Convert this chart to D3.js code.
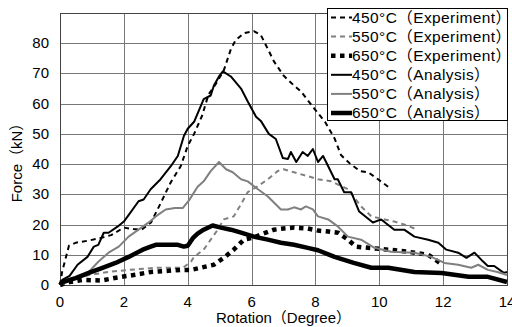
<!DOCTYPE html>
<html>
<head>
<meta charset="utf-8">
<script src="https://cdn.jsdelivr.net/npm/d3@7"></script>
<style>
  body { margin: 0; background: #fff; }
  text { font-family: "Liberation Sans", Arial, "Noto Sans CJK JP", sans-serif; }
</style>
</head>
<body>
<svg id="chart" width="512" height="327"></svg>
<script>
// axis ticks
const xTicks = [0, 2, 4, 6, 8, 10, 12, 14];
const yTicks = [0, 10, 20, 30, 40, 50, 60, 70, 80];

// 450°C experiment
const exp450X = [0, 0.07, 0.28, 0.5, 0.9, 1.25, 1.6, 2.0, 2.3, 2.55, 2.85, 3.15, 3.47, 3.78, 4.0, 4.2, 4.45, 4.65, 4.88, 5.13, 5.35, 5.5, 5.76, 6.07, 6.29, 6.5, 6.7, 7.0, 7.33, 7.55, 7.97, 8.3, 8.6, 8.8, 9.1, 9.4, 9.65, 9.96, 10.3];
const exp450Y = [0, 4.5, 13, 14, 14.7, 15.5, 16.5, 19, 18.5, 18.3, 20.7, 27, 34, 39.3, 46, 50, 56, 63, 66.5, 71, 78, 81, 83.3, 84, 82.7, 78.3, 74, 69.3, 66, 64, 58.3, 54, 48.5, 43, 40, 37.7, 37.3, 35, 32.3];
// 550°C experiment
const exp550X = [0, 0.3, 0.9, 1.5, 2.15, 3.0, 3.85, 4.1, 4.2, 4.5, 4.72, 4.94, 5.13, 5.44, 5.67, 5.88, 6.2, 6.51, 6.82, 7.0, 7.33, 7.76, 8.08, 8.49, 9.02, 9.43, 9.75, 10.16, 10.47, 10.78, 11.2];
const exp550Y = [0, 1.5, 3.3, 4.3, 5, 5.7, 5.7, 7.7, 9.3, 11.7, 15, 18.3, 21.7, 22.7, 26.7, 30.7, 32.7, 35, 37.7, 38.3, 37.3, 36, 35, 34.3, 31.7, 26, 22.7, 21.7, 21, 20, 18.3];
// 650°C experiment
const exp650X = [0, 0.3, 0.7, 1.3, 1.8, 2.3, 2.84, 3.4, 3.78, 4.1, 4.41, 4.82, 5.13, 5.44, 5.76, 6.07, 6.29, 6.7, 7.0, 7.33, 7.76, 8.08, 8.4, 8.71, 9.02, 9.27, 9.65, 10.28, 10.9, 11.53, 11.9];
const exp650Y = [0, 1, 1.7, 1.5, 2.5, 3.3, 4.3, 4.7, 5, 5, 5.7, 6.7, 9, 11.7, 15, 15.7, 16.7, 18.3, 18.7, 19, 18.7, 18, 17.7, 17.3, 15, 12.7, 12.3, 11.7, 11, 10, 7.3];
// 450°C analysis
const ana450X = [0, 0.07, 0.3, 0.55, 0.86, 1.06, 1.2, 1.37, 1.52, 1.8, 2.0, 2.21, 2.46, 2.62, 2.84, 3.15, 3.47, 3.69, 3.88, 4.0, 4.2, 4.5, 4.72, 4.82, 4.98, 5.1, 5.35, 5.67, 5.88, 6.14, 6.29, 6.54, 6.76, 6.98, 7.14, 7.23, 7.4, 7.6, 7.76, 7.92, 8.08, 8.24, 8.4, 8.6, 8.7, 8.9, 9.12, 9.37, 9.8, 10.06, 10.47, 10.78, 11.1, 11.53, 11.85, 12.1, 12.47, 12.73, 12.98, 13.2, 13.4, 13.6, 13.9, 14];
const ana450Y = [0, 1.7, 3, 6.7, 9.3, 12.7, 13.3, 17.3, 17.3, 19.3, 21, 24, 27.7, 28.3, 31.7, 35, 39.3, 42.7, 49.3, 51.7, 54, 61.5, 62.7, 66, 69, 70.7, 69, 65, 60.7, 55.7, 54.3, 50, 48.3, 42, 41.7, 44, 40.7, 44, 42.7, 45, 40.7, 42.7, 39.3, 35, 35, 30.7, 30.7, 24.3, 20.7, 21.7, 18.3, 18.3, 16, 15, 14, 11.7, 10.7, 9, 10.7, 8.3, 6.3, 6.3, 4, 4.3];
// 550°C analysis
const ana550X = [0, 0.2, 0.49, 0.9, 1.2, 1.52, 1.84, 2.15, 2.46, 2.78, 3.0, 3.31, 3.6, 3.85, 4.04, 4.31, 4.5, 4.72, 4.98, 5.2, 5.41, 5.67, 5.88, 6.2, 6.51, 6.7, 6.92, 7.14, 7.33, 7.55, 7.7, 7.92, 8.08, 8.4, 8.71, 9.02, 9.43, 9.85, 10.37, 11.1, 11.63, 12.04, 12.47, 12.88, 13.1, 13.4, 13.7, 14];
const ana550Y = [0, 1, 2.3, 4.3, 7.7, 10.7, 12.7, 16, 18.3, 20.7, 22.7, 25, 25.5, 25.5, 28, 32.5, 34.3, 37.7, 40.7, 38.3, 37.3, 35, 34.3, 31.7, 29.3, 27.3, 25, 25, 25.7, 25, 26, 25, 22.7, 21.7, 19.3, 16, 15, 12.3, 11, 10.7, 9.3, 7.3, 6.7, 5.7, 6.7, 5, 4.3, 3.3];
// 650°C analysis
const ana650X = [0, 0.08, 0.49, 0.9, 1.33, 1.74, 2.15, 2.59, 2.84, 3.0, 3.41, 3.69, 3.88, 4.0, 4.16, 4.31, 4.5, 4.78, 5.04, 5.35, 5.67, 6.07, 6.51, 6.92, 7.33, 7.76, 8.08, 8.6, 9.2, 9.75, 10.28, 11.1, 11.95, 12.8, 13.4, 14];
const ana650Y = [0, 1, 2.3, 4, 5.7, 7.3, 9.3, 11.7, 12.7, 13.3, 13.3, 13.3, 12.7, 13, 15.5, 17, 18.3, 19.7, 19, 18.3, 17.3, 16, 15, 14, 13.3, 12.3, 11.5, 9.3, 7.3, 5.7, 5.7, 4.3, 4, 2.7, 2.7, 1];

const series = [
  { name: "450°C（Experiment）", xs: exp450X, ys: exp450Y, color: "#000", width: 2, dash: "5,4" },
  { name: "550°C（Experiment）", xs: exp550X, ys: exp550Y, color: "#808080", width: 2, dash: "5,4" },
  { name: "650°C（Experiment）", xs: exp650X, ys: exp650Y, color: "#000", width: 4.5, dash: "4.5,4.5" },
  { name: "450°C（Analysis）", xs: ana450X, ys: ana450Y, color: "#000", width: 2, dash: null },
  { name: "550°C（Analysis）", xs: ana550X, ys: ana550Y, color: "#808080", width: 2, dash: null },
  { name: "650°C（Analysis）", xs: ana650X, ys: ana650Y, color: "#000", width: 4.5, dash: null },
];

const svg = d3.select('#chart');
const plot = { left: 60, right: 507, top: 13, bottom: 285 };

const x = d3.scaleLinear().domain([0, 14]).range([plot.left, plot.right]);
const y = d3.scaleLinear().domain([0, 90]).range([plot.bottom, plot.top]);

// grid
svg.append('g').selectAll('line').data(yTicks).enter().append('line')
  .attr('x1', plot.left).attr('x2', plot.right)
  .attr('y1', d => Math.round(y(d)) + 0.5).attr('y2', d => Math.round(y(d)) + 0.5)
  .attr('stroke', '#777').attr('stroke-width', 1);
svg.append('g').selectAll('line').data(xTicks).enter().append('line')
  .attr('x1', d => Math.round(x(d)) + 0.5).attr('x2', d => Math.round(x(d)) + 0.5)
  .attr('y1', plot.top).attr('y2', plot.bottom)
  .attr('stroke', '#777').attr('stroke-width', 1);

// frame
svg.append('rect')
  .attr('x', plot.left + 0.5).attr('y', plot.top + 0.5)
  .attr('width', plot.right - plot.left).attr('height', plot.bottom - plot.top)
  .attr('fill', 'none').attr('stroke', '#444').attr('stroke-width', 1);

// tick labels (the last one is clipped at the right edge, as in the original)
svg.append('g').selectAll('text').data(yTicks).enter().append('text')
  .attr('x', 49).attr('y', d => y(d) + 5)
  .attr('text-anchor', 'end').attr('font-size', 15).attr('fill', '#000')
  .text(d => d);
svg.append('g').selectAll('text').data(xTicks).enter().append('text')
  .attr('x', d => x(d)).attr('y', 307)
  .attr('text-anchor', 'middle').attr('font-size', 15).attr('fill', '#000')
  .text(d => d);

// axis titles
svg.append('text')
  .attr('x', (plot.left + plot.right) / 2).attr('y', 323)
  .attr('text-anchor', 'middle').attr('font-size', 15)
  .text('Rotation（Degree）');
svg.append('text')
  .attr('transform', 'translate(22,159) rotate(-90)')
  .attr('text-anchor', 'middle').attr('font-size', 15)
  .text('Force（kN）');

// curves
const line = d3.line().x(d => x(d[0])).y(d => y(d[1]));
series.forEach(s => {
  const pts = s.xs.map((v, i) => [v, s.ys[i]]);
  svg.append('path')
    .datum(pts)
    .attr('d', line)
    .attr('fill', 'none')
    .attr('stroke', s.color)
    .attr('stroke-width', s.width)
    .attr('stroke-dasharray', s.dash)
    .attr('stroke-linejoin', 'round');
});

// legend
const lg = svg.append('g');
lg.append('rect')
  .attr('x', 327.5).attr('y', 8.5).attr('width', 180).attr('height', 112)
  .attr('fill', '#fff').attr('stroke', '#000').attr('stroke-width', 1);
const rowY = i => 22.5 + i * 19.1;
series.forEach((s, i) => {
  lg.append('line')
    .attr('x1', 331).attr('x2', 352)
    .attr('y1', rowY(i) - 5).attr('y2', rowY(i) - 5)
    .attr('stroke', s.color).attr('stroke-width', s.width)
    .attr('stroke-dasharray', s.dash);
  lg.append('text')
    .attr('x', 352).attr('y', rowY(i))
    .attr('font-size', 15.5)
    .attr('letter-spacing', 0.4)
    .text(s.name);
});
</script>
</body>
</html>
